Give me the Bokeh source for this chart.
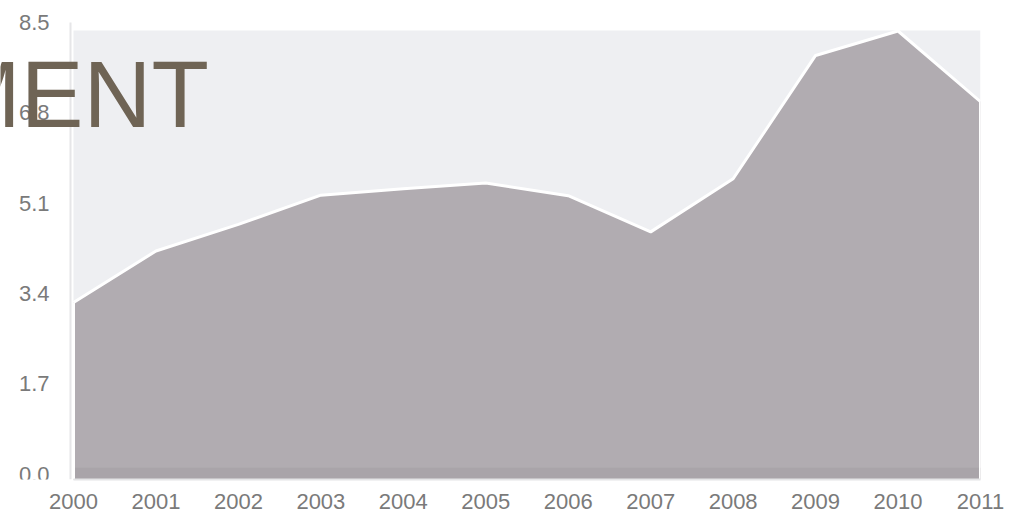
from bokeh.plotting import figure
from bokeh.models import ColumnDataSource, FixedTicker, Label, Range1d
from bokeh.core.properties import value
from bokeh.embed import file_html
from bokeh.resources import INLINE

# Annual rate, 2000-2011
years = [2000, 2001, 2002, 2003, 2004, 2005, 2006, 2007, 2008, 2009, 2010, 2011]
rates = [3.23, 4.2, 4.7, 5.25, 5.37, 5.48, 5.24, 4.56, 5.56, 7.88, 8.34, 7.01]
y_ticks = [0.0, 1.7, 3.4, 5.1, 6.8, 8.5]
title_text = "MENT"

W, H = 1021, 520
left_px, right_px = 73, 980          # pixel columns of the first and last year
top_px, bottom_px = 22, 479          # pixel rows of the top tick and the baseline
y_lo, y_hi = -0.1, y_ticks[-1]

# The frame fills the whole canvas so the headline can sit over the tick column.
ppx = (right_px - left_px) / (years[-1] - years[0])
ppy = (bottom_px - top_px) / (y_hi - y_lo)
x_start = years[0] - left_px / ppx
y_end = y_hi + top_px / ppy

p = figure(width=W, height=H, output_backend="svg", toolbar_location=None,
           x_range=Range1d(x_start, years[-1]), y_range=Range1d(y_lo, y_end),
           min_border_left=0, min_border_right=W - right_px, min_border_top=0,
           min_border_bottom=H - bottom_px)
p.background_fill_color = "white"
p.border_fill_color = "white"
p.outline_line_color = None
p.grid.visible = False
p.yaxis.visible = False

# light panel behind the area
p.quad(left=years[0], right=years[-1], bottom=y_lo, top=8.35,
       fill_color="#eeeff2", line_color=None)

src = ColumnDataSource(dict(x=years, y=rates))
p.varea(x="x", y1=y_lo, y2="y", source=src, fill_color="#b1acb1")
p.varea(x="x", y1=y_lo, y2=0.12, source=src, fill_color="#a9a4a9")
p.line(x="x", y="y", source=src, line_color="white", line_width=3)
# white edges down to the baseline
p.segment(x0=[years[0], years[-1]], y0=[y_lo, y_lo],
          x1=[years[0], years[-1]], y1=[rates[0], rates[-1]],
          line_color="white", line_width=3)

# faint vertical axis line just left of the area
ax_x = years[0] - 3 / ppx
p.segment(x0=[ax_x], y0=[y_lo], x1=[ax_x], y1=[y_hi], line_color="#e6e6e8", line_width=2)

# y tick labels
lab_x = x_start + 49 / ppx
p.text(x=[lab_x] * len(y_ticks), y=y_ticks, text=[f"{v:.1f}" for v in y_ticks],
       text_align="right", text_baseline="middle", text_font=value("Liberation Sans"),
       text_font_size="22px", text_color="#7a7a7a")

xa = p.xaxis[0]
xa.bounds = (years[0], years[-1])
xa.axis_line_color = "#e4e4e6"
xa.axis_line_width = 2
xa.major_tick_line_color = None
xa.minor_tick_line_color = None
xa.major_label_text_font = "Liberation Sans"
xa.major_label_text_font_size = "22px"
xa.major_label_text_color = "#7a7a7a"
xa.ticker = FixedTicker(ticks=years)
xa.major_label_standoff = 8

p.add_layout(Label(x=-58, y=H - 135, x_units="screen", y_units="screen",
                   text=title_text, text_font="Liberation Sans",
                   text_font_size="94px", text_color="#6f6455",
                   text_baseline="alphabetic", level="overlay"))

open("out.html", "w").write(file_html(p, INLINE))
